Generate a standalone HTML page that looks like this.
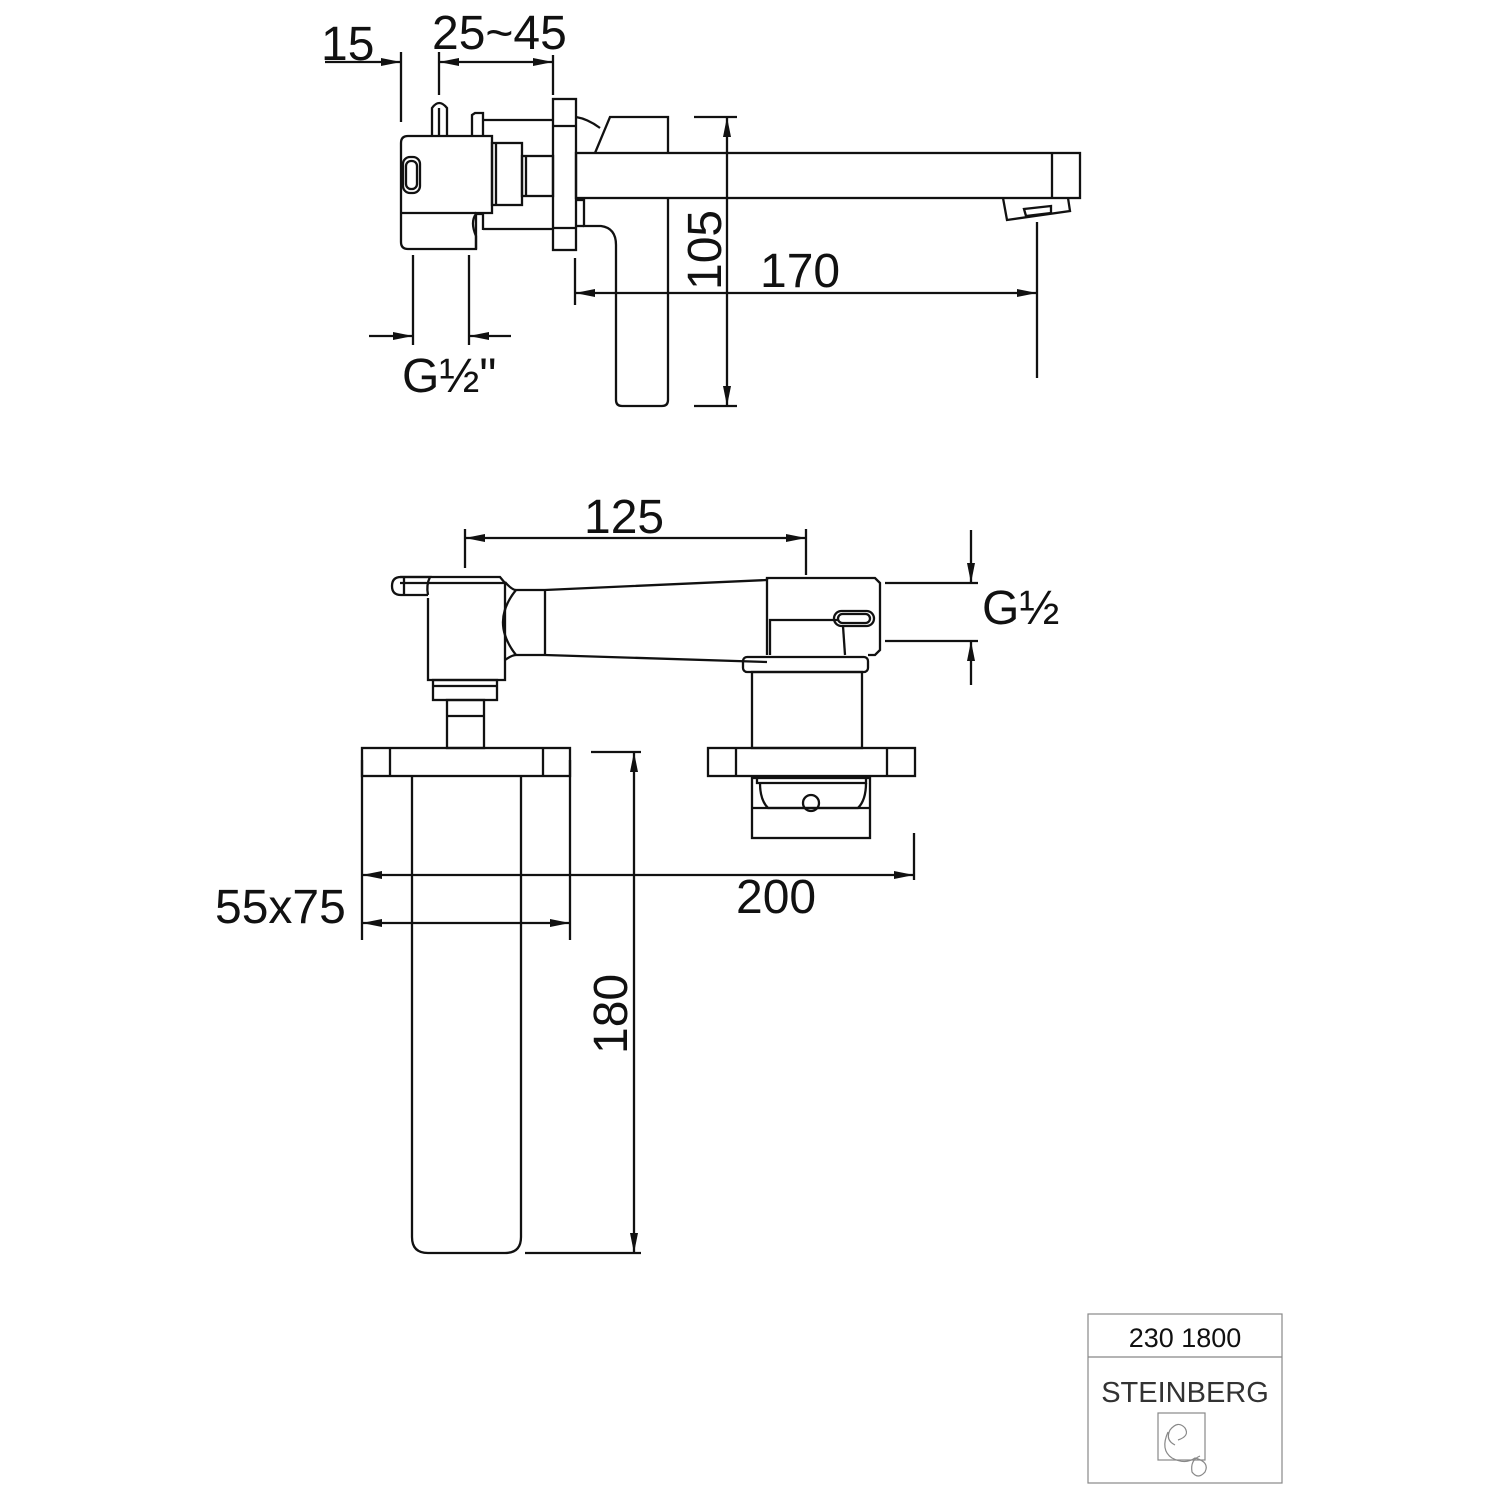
<!DOCTYPE html>
<html><head><style>
html,body{margin:0;padding:0;background:#fff}
svg{display:block}
text{font-family:"Liberation Sans",Arial,sans-serif;fill:#111}
</style></head><body>
<svg width="1500" height="1500" viewBox="0 0 1500 1500" xmlns="http://www.w3.org/2000/svg">
<defs>
<marker id="a" viewBox="0 0 20 8" refX="20" refY="4" markerWidth="20" markerHeight="8" markerUnits="userSpaceOnUse" orient="auto"><path d="M0,0L20,4L0,8z" fill="#111"/></marker>
</defs>
<g fill="none" stroke="#111" stroke-width="2.3">
<line x1="325" y1="62" x2="401" y2="62" marker-end="url(#a)"/>
<line x1="401" y1="52" x2="401" y2="122"/>
<line x1="439" y1="52" x2="439" y2="95"/>
<line x1="553" y1="55" x2="553" y2="95"/>
<line x1="495" y1="62" x2="439" y2="62" marker-end="url(#a)"/>
<line x1="495" y1="62" x2="553" y2="62" marker-end="url(#a)"/>
<line x1="413" y1="255" x2="413" y2="345"/>
<line x1="469" y1="255" x2="469" y2="345"/>
<line x1="369" y1="336" x2="413" y2="336" marker-end="url(#a)"/>
<line x1="511" y1="336" x2="469" y2="336" marker-end="url(#a)"/>
<path d="M408,136 H492 V213 H476 V249 H408 Q401,249 401,242 V143 Q401,136 408,136 Z"/>
<line x1="401" y1="213" x2="476" y2="213"/>
<rect x="403" y="157" width="17" height="36" rx="7"/>
<rect x="406" y="161" width="11" height="28" rx="5"/>
<path d="M432,136 V108 Q439,98 447,108 V136"/>
<line x1="439" y1="108" x2="439" y2="136"/>
<path d="M472,136 V115 L475,113 H483 V136"/>
<path d="M476,249 V236 Q470,222 476,214 H483 V230"/>
<rect x="492" y="143" width="30" height="62"/>
<line x1="496" y1="143" x2="496" y2="205"/>
<rect x="522" y="156" width="31" height="40"/>
<line x1="526" y1="156" x2="526" y2="196"/>
<line x1="483" y1="120" x2="553" y2="120"/>
<line x1="483" y1="229" x2="553" y2="229"/>
<rect x="553" y="99" width="23" height="151"/>
<line x1="553" y1="126" x2="576" y2="126"/>
<line x1="553" y1="228" x2="576" y2="228"/>
<rect x="576" y="153" width="504" height="45"/>
<line x1="1052" y1="153" x2="1052" y2="198"/>
<path d="M1003,198 L1007,220 L1070,211 L1068,198"/>
<path d="M1024,209 L1026,216 L1051,213 L1051,206 Z"/>
<path d="M576,117 Q588,119 600,128"/>
<path d="M595,153 L610,117 H668 V153"/>
<path d="M584,198 V226 H601 Q616,228 616,245 V400 Q616,406 622,406 H662 Q668,406 668,400 V198"/>
<line x1="576" y1="200" x2="584" y2="200"/>
<line x1="576" y1="226" x2="584" y2="226"/>
<line x1="694" y1="117" x2="737" y2="117"/>
<line x1="694" y1="406" x2="737" y2="406"/>
<line x1="727" y1="261" x2="727" y2="117" marker-end="url(#a)"/>
<line x1="727" y1="261" x2="727" y2="406" marker-end="url(#a)"/>
<line x1="575" y1="258" x2="575" y2="305"/>
<line x1="1037" y1="222" x2="1037" y2="378"/>
<line x1="806" y1="293" x2="575" y2="293" marker-end="url(#a)"/>
<line x1="806" y1="293" x2="1037" y2="293" marker-end="url(#a)"/>

<line x1="465" y1="529" x2="465" y2="568"/>
<line x1="806" y1="529" x2="806" y2="575"/>
<line x1="636" y1="538" x2="465" y2="538" marker-end="url(#a)"/>
<line x1="636" y1="538" x2="806" y2="538" marker-end="url(#a)"/>
<line x1="885" y1="583" x2="978" y2="583"/>
<line x1="885" y1="641" x2="978" y2="641"/>
<line x1="971" y1="530" x2="971" y2="583" marker-end="url(#a)"/>
<line x1="971" y1="685" x2="971" y2="641" marker-end="url(#a)"/>
<path d="M400,577 H500 L505,583 V680 H428 V598"/>
<path d="M428,595 H401 Q392,595 392,586 Q392,577 401,577 H430 Q426,585 428,595"/>
<line x1="400" y1="583" x2="505" y2="583"/>
<line x1="404" y1="577" x2="404" y2="595"/>
<path d="M505,582 Q512,590 516,590 L545,590 L767,580"/>
<path d="M505,660 Q512,655 516,655 L545,655 L767,662"/>
<path d="M516,590 Q490,622 516,655"/>
<line x1="545" y1="590" x2="545" y2="655"/>
<rect x="433" y="680" width="64" height="20"/>
<line x1="433" y1="686" x2="497" y2="686"/>
<rect x="447" y="700" width="37" height="48"/>
<line x1="447" y1="716" x2="484" y2="716"/>
<rect x="362" y="748" width="208" height="28"/>
<line x1="390" y1="748" x2="390" y2="776"/>
<line x1="543" y1="748" x2="543" y2="776"/>
<path d="M412,776 V1237 Q412,1253 428,1253 H505 Q521,1253 521,1237 V776"/>
<path d="M767,580 V578 H875 L880,583 V650 L875,655 H868"/>
<line x1="767" y1="578" x2="767" y2="655"/>
<path d="M770,655 V620 L775,620 H838"/>
<rect x="834" y="611" width="40" height="15" rx="7.5"/>
<rect x="838" y="614" width="32" height="9" rx="4.5"/>
<path d="M843,626 L845,655"/>
<rect x="743" y="657" width="125" height="15" rx="4"/>
<rect x="752" y="672" width="110" height="76"/>
<rect x="708" y="748" width="207" height="28"/>
<line x1="736" y1="748" x2="736" y2="776"/>
<line x1="887" y1="748" x2="887" y2="776"/>
<rect x="752" y="778" width="118" height="60"/>
<path d="M757,778 V783 H866 V778"/>
<path d="M760,783 Q760,800 768,808 H858 Q866,800 866,783"/>
<line x1="752" y1="808" x2="870" y2="808"/>
<circle cx="811" cy="803" r="8"/>
<line x1="362" y1="760" x2="362" y2="940"/>
<line x1="570" y1="760" x2="570" y2="940"/>
<line x1="914" y1="833" x2="914" y2="880"/>
<line x1="640" y1="875" x2="362" y2="875" marker-end="url(#a)"/>
<line x1="640" y1="875" x2="914" y2="875" marker-end="url(#a)"/>
<line x1="466" y1="923" x2="362" y2="923" marker-end="url(#a)"/>
<line x1="466" y1="923" x2="570" y2="923" marker-end="url(#a)"/>
<line x1="591" y1="752" x2="641" y2="752"/>
<line x1="525" y1="1253" x2="641" y2="1253"/>
<line x1="634" y1="1000" x2="634" y2="752" marker-end="url(#a)"/>
<line x1="634" y1="1000" x2="634" y2="1253" marker-end="url(#a)"/>
</g>
<g font-size="48">
<text x="321" y="60">15</text>
<text x="432" y="49">25~45</text>
<text x="402" y="392">G½"</text>
<text x="760" y="287">170</text>
<text x="721" y="290" transform="rotate(-90 721 290)">105</text>
<text x="584" y="533">125</text>
<text x="982" y="624">G½</text>
<text x="215" y="923">55x75</text>
<text x="736" y="913">200</text>
<text x="627" y="1054" transform="rotate(-90 627 1054)">180</text>
</g>
<g fill="none" stroke="#888" stroke-width="1.2">
<rect x="1088" y="1314" width="194" height="169"/>
<line x1="1088" y1="1357" x2="1282" y2="1357"/>
<rect x="1158" y="1413" width="47" height="47"/>
<path d="M1175,1445 Q1165,1440 1170,1430 Q1178,1420 1185,1428 Q1190,1436 1178,1440 M1168,1432 Q1160,1450 1172,1458 Q1185,1465 1195,1458 Q1210,1462 1205,1472 Q1198,1480 1192,1472 Q1190,1460 1200,1456"/>
</g>
<text x="1185" y="1347" font-size="27" text-anchor="middle">230 1800</text>
<text x="1185" y="1402" font-size="29" text-anchor="middle" style="fill:#333">STEINBERG</text>
</svg>
</body></html>
